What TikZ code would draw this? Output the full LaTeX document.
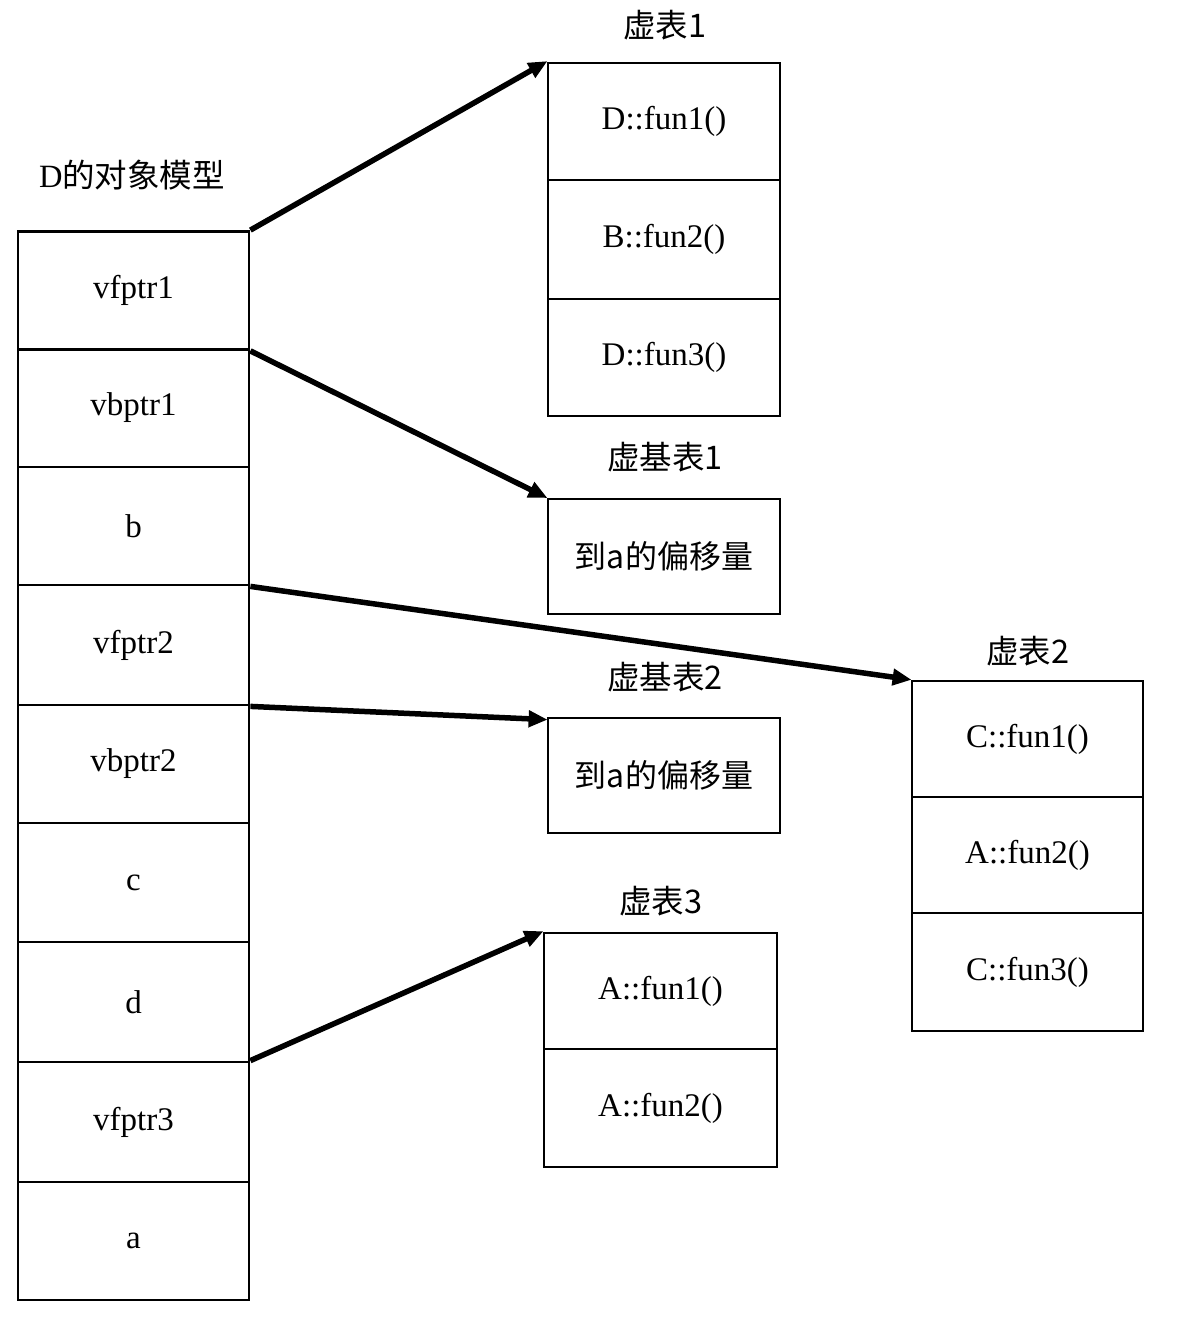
\documentclass[tikz,border=0pt]{standalone}
\usepackage{fontspec}
\setmainfont{Liberation Serif}
\newfontfamily\cjk{Noto Sans CJK SC}
\usetikzlibrary{arrows.meta}
\begin{document}
\begin{tikzpicture}[x=1pt,y=-1pt,
  cell/.style={draw, line width=2.8pt, inner sep=0pt, minimum width=231pt, minimum height=118pt, font=\fontsize{33}{38}\selectfont},
  ttl/.style={inner sep=0pt, font=\fontsize{32.5}{38}\selectfont\cjk},
  cjkcell/.style={cell, font=\fontsize{32}{38}\selectfont\cjk},
  ptr/.style={line width=5.5pt, -{Triangle[length=19pt,width=16pt]}, shorten >=-1pt}]
\useasboundingbox (0,0) rectangle (1190,1322);
% object model
\node[ttl] (lbl) at (132,175) {{\rmfamily D}的对象模型};
\node[cell] (vf1) at (133.5,290.5) {vfptr1};
\node[cell] (vb1) at (133.5,408) {vbptr1};
\node[cell] (cb) at (133.5,526) {b};
\node[cell, minimum height=120pt] (vf2) at (133.5,645) {vfptr2};
\node[cell] (vb2) at (133.5,764) {vbptr2};
\node[cell, minimum height=119pt] (cc) at (133.5,882.5) {c};
\node[cell, minimum height=120pt] (cd) at (133.5,1002) {d};
\node[cell, minimum height=120pt] (vf3) at (133.5,1122) {vfptr3};
\node[cell] (ca) at (133.5,1241) {a};
% vtable 1
\node[ttl] (l1) at (665,25) {虚表1};
\node[cell, minimum width=232pt, minimum height=117pt] (t1a) at (664,121.5) {D::fun1()};
\node[cell, minimum width=232pt, minimum height=119pt] (t1b) at (664,239.5) {B::fun2()};
\node[cell, minimum width=232pt, minimum height=117pt] (t1c) at (664,357.5) {D::fun3()};
% vbtable 1
\node[ttl] (l2) at (665,457) {虚基表1};
\node[cjkcell, minimum width=232pt, minimum height=115pt] (vbt1) at (664,556.5) {到a的偏移量};
% vbtable 2
\node[ttl] (l3) at (665,677) {虚基表2};
\node[cjkcell, minimum width=232pt, minimum height=115pt] (vbt2) at (664,775.5) {到a的偏移量};
% vtable 2
\node[ttl] (l4) at (1028,651) {虚表2};
\node[cell, minimum height=116pt] (t2a) at (1027.5,739) {C::fun1()};
\node[cell, minimum height=116pt] (t2b) at (1027.5,855) {A::fun2()};
\node[cell, minimum height=118pt] (t2c) at (1027.5,972) {C::fun3()};
% vtable 3
\node[ttl] (l5) at (661,901) {虚表3};
\node[cell, minimum width=233pt, minimum height=116pt] (t3a) at (660.5,991) {A::fun1()};
\node[cell, minimum width=233pt, minimum height=118pt] (t3b) at (660.5,1108) {A::fun2()};
% pointers
\draw[ptr] (vf1.north east) -- (t1a.north west);
\draw[ptr] (vf1.south east) -- (vbt1.north west);
\draw[ptr] (cb.south east) -- (t2a.north west);
\draw[ptr] (vf2.south east) -- ([yshift=-3pt]vbt2.north west);
\draw[ptr] (vf3.north east) -- (t3a.north west);
\end{tikzpicture}
\end{document}
